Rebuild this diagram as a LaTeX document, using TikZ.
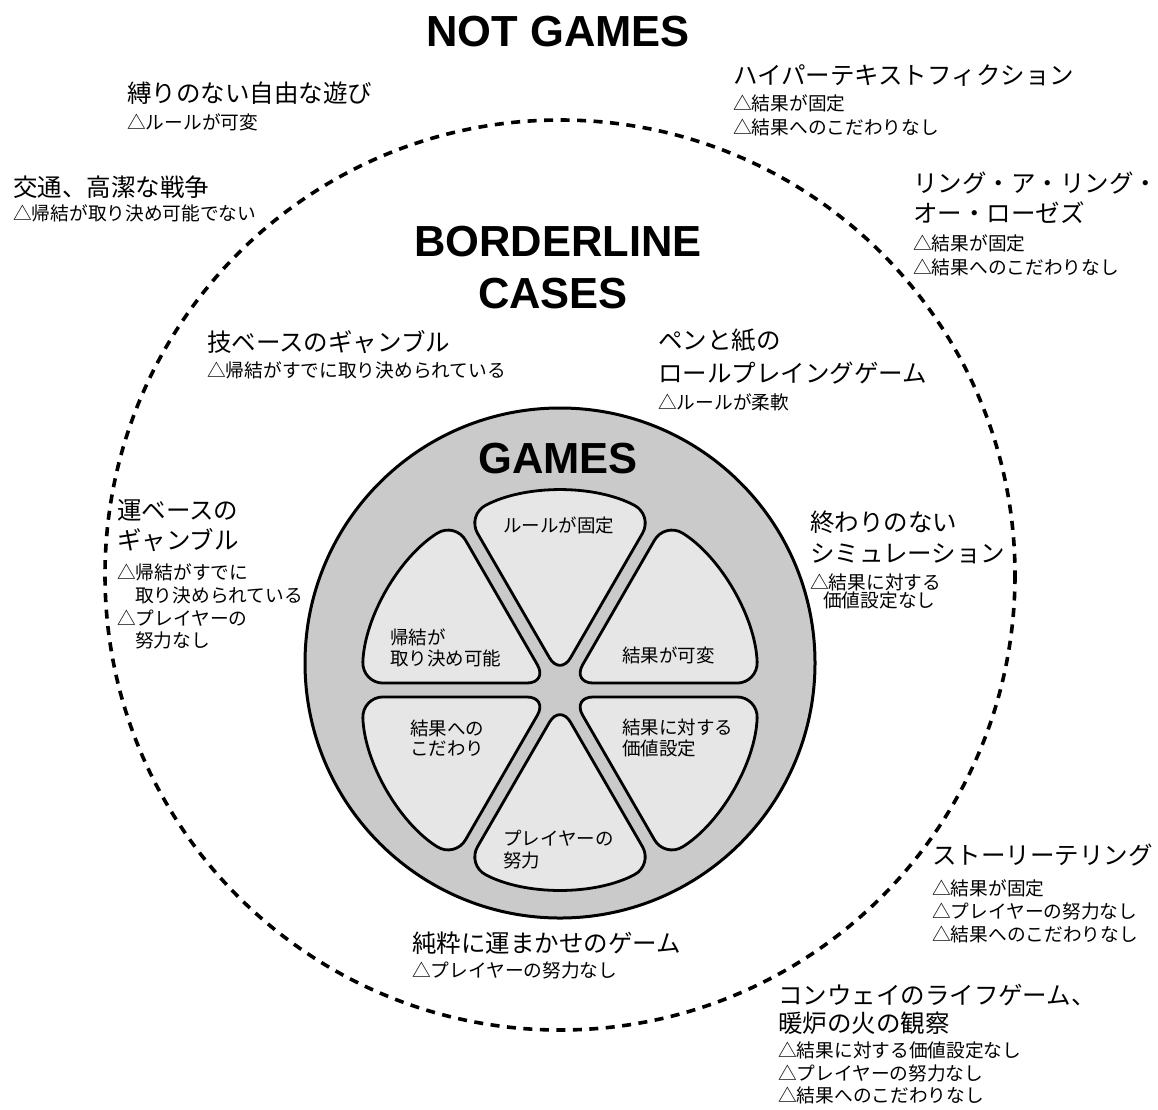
\documentclass[tikz,border=0pt]{standalone}
\usepackage{fontspec}
\newfontfamily\jp{Noto Sans CJK JP}
\newfontfamily\headfont{Liberation Sans}
\definecolor{ringgray}{RGB}{202,202,202}
\definecolor{petalgray}{RGB}{230,230,230}
\tikzset{
  big/.style={font=\jp\fontsize{24.5}{29}\selectfont, anchor=base west, inner sep=0pt},
  small/.style={font=\jp\fontsize{18.7}{22}\selectfont, anchor=base west, inner sep=0pt},
  ptext/.style={font=\jp\fontsize{18.5}{22}\selectfont, anchor=base west, inner sep=0pt},
  head/.style={font=\headfont\bfseries\fontsize{43.5}{50}\selectfont, anchor=base, inner sep=0pt},
  border/.style={draw=black, line width=3.6pt, dash pattern=on 9pt off 7.5pt},
  gamesring/.style={draw=black, line width=3pt, fill=ringgray},
  petal/.style={draw=black, line width=2.8pt, fill=petalgray, rounded corners=21pt, line join=round}
}
\begin{document}
\begin{tikzpicture}[x=1pt,y=-1pt]
\useasboundingbox (0,0) rectangle (1158,1109);
% circles
\draw[border] (560,575) circle[radius=455];
\draw[gamesring] (560,663) circle[radius=255];
\begin{scope}[shift={(560,690)}, yscale=-1]
  \foreach \a in {90,30,-30,-90,-150,150}{
    \draw[petal] (\a:14) -- (\a-28:198) arc[start angle=\a-28, end angle=\a+28, radius=198] -- cycle;
  }
\end{scope}
% headings
\node[head] (notgames) at (558,46) {NOT GAMES};
\node[head] (border1) at (558,256) {BORDERLINE};
\node[head] (border2) at (553,308) {CASES};
\node[head] (games) at (558,473) {GAMES};
% petal labels
\node[ptext] (p1) at (503,532) {ルールが固定};
\node[ptext] (p2a) at (390,644) {帰結が};
\node[ptext] (p2b) at (390,665) {取り決め可能};
\node[ptext] (p3) at (622,662) {結果が可変};
\node[ptext] (p4a) at (410,735) {結果への};
\node[ptext] (p4b) at (410,755) {こだわり};
\node[ptext] (p5a) at (622,734) {結果に対する};
\node[ptext] (p5b) at (622,755) {価値設定};
\node[ptext] (p6a) at (503,845) {プレイヤーの};
\node[ptext] (p6b) at (503,867) {努力};
% not games
\node[big] (fp1) at (127,102) {縛りのない自由な遊び};
\node[small] (fp2) at (127,129) {△ルールが可変};
\node[big] (war1) at (13,196) {交通、高潔な戦争};
\node[small] (war2) at (13,220) {△帰結が取り決め可能でない};
\node[big] (hf1) at (733,84) {ハイパーテキストフィクション};
\node[small] (hf2) at (733,110) {△結果が固定};
\node[small] (hf3) at (733,134) {△結果へのこだわりなし};
\node[big] (rr1) at (913,192) {リング・ア・リング・};
\node[big] (rr2) at (913,222) {オー・ローゼズ};
\node[small] (rr3) at (913,250) {△結果が固定};
\node[small] (rr4) at (913,274) {△結果へのこだわりなし};
\node[big] (st1) at (932,864) {ストーリーテリング};
\node[small] (st2) at (932,895) {△結果が固定};
\node[small] (st3) at (932,918) {△プレイヤーの努力なし};
\node[small] (st4) at (932,941) {△結果へのこだわりなし};
\node[big] (cw1) at (778,1004) {コンウェイのライフゲーム、};
\node[big] (cw2) at (778,1032) {暖炉の火の観察};
\node[small] (cw3) at (778,1057) {△結果に対する価値設定なし};
\node[small] (cw4) at (778,1080) {△プレイヤーの努力なし};
\node[small] (cw5) at (778,1102) {△結果へのこだわりなし};
% borderline
\node[big] (sk1) at (207,351) {技ベースのギャンブル};
\node[small] (sk2) at (207,377) {△帰結がすでに取り決められている};
\node[big] (pp1) at (658,349) {ペンと紙の};
\node[big] (pp2) at (658,382) {ロールプレイングゲーム};
\node[small] (pp3) at (658,409) {△ルールが柔軟};
\node[big] (lg1) at (117,519) {運ベースの};
\node[big] (lg2) at (117,549) {ギャンブル};
\node[small] (lg3) at (117,579) {△帰結がすでに};
\node[small] (lg4) at (135,602) {取り決められている};
\node[small] (lg5) at (117,625) {△プレイヤーの};
\node[small] (lg6) at (135,647) {努力なし};
\node[big] (sim1) at (810,531) {終わりのない};
\node[big] (sim2) at (810,562) {シミュレーション};
\node[small] (sim3) at (810,589) {△結果に対する};
\node[small] (sim4) at (823,607) {価値設定なし};
\node[big] (ch1) at (412,952) {純粋に運まかせのゲーム};
\node[small] (ch2) at (412,977) {△プレイヤーの努力なし};
\end{tikzpicture}
\end{document}
